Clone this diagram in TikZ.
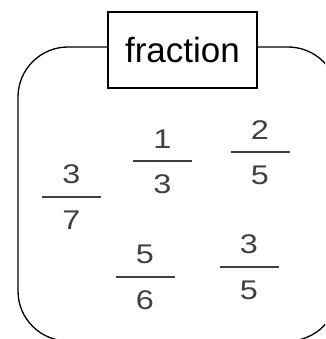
\documentclass[tikz,border=0pt]{standalone}
\usepackage{fontspec}
\setmainfont{Liberation Sans}
\newfontfamily\digitfont[FakeStretch=1.2]{Liberation Sans}
\usetikzlibrary{positioning}

\begin{document}
\begin{tikzpicture}[
  x=1pt, y=-1pt, line width=1.3pt,
  title/.style={draw, fill=white, minimum width=149pt, minimum height=76pt, inner sep=0pt, font=\fontsize{35}{38}\selectfont},
  bar/.style={fill=black!75, minimum width=59pt, minimum height=1.3pt, inner sep=0pt},
  digit/.style={inner sep=0pt, text=black!75, font=\digitfont\fontsize{27}{30}\selectfont}]
\useasboundingbox (0,0) rectangle (325,339);
\clip (0,0) rectangle (325,339);
% outer frame
\draw[rounded corners=50pt] (18,47) rectangle (338,341);
\node[title] (ttl) at (182.5,50) {fraction};
% fractions
\foreach \nm/\x/\y/\n/\d in {a/71.5/197/3/7, b/162.5/161/1/3, c/260/152/2/5, d/145/277/5/6, e/249/267/3/5}{
  \node[bar] (bar\nm) at (\x,\y) {};
  \node[digit, above=11pt of bar\nm] (num\nm) {\n};
  \node[digit, below=12pt of bar\nm] (den\nm) {\d};
}
\end{tikzpicture}
\end{document}
